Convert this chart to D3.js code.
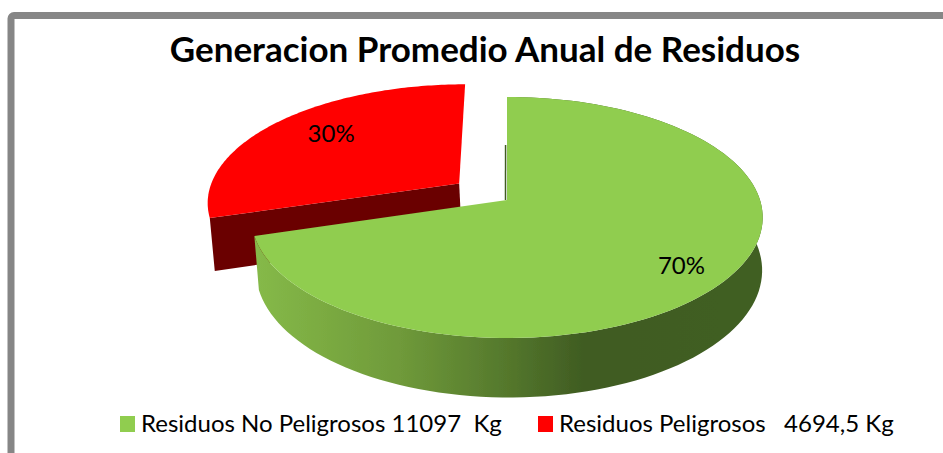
<!DOCTYPE html>
<html>
<head>
<meta charset="utf-8">
<script src="https://cdn.jsdelivr.net/npm/d3@7"></script>
<style>
    html, body { margin: 0; padding: 0; background: #fff; overflow: hidden; }
    text { font-family: Lato, "Open Sans", sans-serif; white-space: pre; }
</style>
</head>
<body>
<div id="chart"></div>
<script>
const chartTitle = "Generacion Promedio Anual de Residuos";
const categories = ["Residuos No Peligrosos", "Residuos Peligrosos"];
const values = [11097, 4694.5];
const legendLabels = ["Residuos No Peligrosos 11097  Kg", "Residuos Peligrosos   4694,5 Kg"];

const width = 943, height = 453;

const svg = d3.select("#chart")
    .append("svg")
    .attr("width", width)
    .attr("height", height);

// Frame, right and bottom edges run off the picture
svg.append("rect")
    .attr("x", 11).attr("y", 15.5)
    .attr("width", 960).attr("height", 480)
    .attr("rx", 3)
    .attr("fill", "#fff")
    .attr("stroke", "#868686")
    .attr("stroke-width", 7);

svg.append("text")
    .attr("x", 485).attr("y", 62)
    .attr("text-anchor", "middle")
    .attr("font-size", 35)
    .attr("font-weight", 700)
    .attr("fill", "#000")
    .text(chartTitle);

const color = d3.scaleOrdinal().domain(categories).range(["#90cd4f", "#ff0000"]);
const sideColor = d3.scaleOrdinal().domain(categories).range(["url(#greenSide)", "#6a0000"]);

const defs = svg.append("defs");
const grad = defs.append("linearGradient")
    .attr("id", "greenSide")
    .attr("gradientUnits", "userSpaceOnUse")
    .attr("x1", 258).attr("x2", 763).attr("y1", 0).attr("y2", 0);
[["0%", "#85b948"], ["28%", "#6f9a3a"], ["48%", "#567a2d"], ["65%", "#3f5b22"], ["100%", "#415f24"]]
    .forEach(([o, c]) => grad.append("stop").attr("offset", o).attr("stop-color", c));
defs.append("filter").attr("id", "soft")
    .attr("x", "-5%").attr("y", "-5%").attr("width", "110%").attr("height", "110%")
    .append("feGaussianBlur").attr("stdDeviation", 0.6);

// Perspective view of the pie: u right, v towards the viewer, h downwards
const cx = 507, cy = 200, R = 253, k = 118, p = 0.145, depth = 52;
function project(u, v, h) {
    const w = 1 - p * v, s = 1 - 0.01 * h;
    return [cx + 2 * h + s * R * u / w, cy + (s * k * v + depth * h) / w];
}

const pie = d3.pie().sort(null).value(d => d);
const slices = pie(values);
const explode = [0, 0.24];
const labelRadius = [0.82, 0.7];
const labelShift = [[-5, 4], [1, -5]];
const line = d3.line();

slices.forEach((d, i) => { d.i = i; });

function rim(d, h) {
    const mid = (d.startAngle + d.endAngle) / 2;
    const ox = explode[d.i] * Math.sin(mid), oy = -explode[d.i] * Math.cos(mid);
    const steps = d3.range(0, 121).map(n => d.startAngle + (d.endAngle - d.startAngle) * n / 120);
    return steps.map(a => project(ox + Math.sin(a), oy - Math.cos(a), h));
}
function apex(d, h) {
    const mid = (d.startAngle + d.endAngle) / 2;
    return project(explode[d.i] * Math.sin(mid), -explode[d.i] * Math.cos(mid), h);
}

// Back slice first, the big one overlaps it
const g = svg.append("g").attr("filter", "url(#soft)");
[slices[1], slices[0]].forEach(d => {
    const top = rim(d, 0), bottom = rim(d, 1);
    const fill = sideColor(categories[d.i]);

    if (d.i === 0) {
        // Outer wall of the green slice
        g.append("path")
            .attr("d", line(top.concat(bottom.slice().reverse())) + "Z")
            .attr("fill", fill);
    } else {
        // Red slice only shows its front cut face
        g.append("path")
            .attr("d", line([apex(d, 0), top[0], bottom[0], apex(d, 1)]) + "Z")
            .attr("fill", fill);
    }
    g.append("path")
        .attr("d", line([apex(d, 0)].concat(top)) + "Z")
        .attr("fill", color(categories[d.i]));
});

// Thin dark edge of the cut on the green slice
g.append("path")
    .attr("d", line([project(-0.006, -0.5, 0), project(-0.006, 0, 0)]))
    .attr("stroke", "#3f5b22")
    .attr("stroke-width", 1.5)
    .attr("fill", "none");

// Percent labels
const total = d3.sum(values);
slices.forEach(d => {
    const mid = (d.startAngle + d.endAngle) / 2;
    const r = labelRadius[d.i], e = explode[d.i];
    const [x, y] = project((e + r) * Math.sin(mid), -(e + r) * Math.cos(mid), 0);
    svg.append("text")
        .attr("x", x + labelShift[d.i][0]).attr("y", y + labelShift[d.i][1])
        .attr("dy", "0.35em")
        .attr("text-anchor", "middle")
        .attr("font-size", 24)
        .attr("fill", "#000")
        .text(d3.format(".0%")(d.value / total));
});

// Legend
const legendX = [120, 538];
categories.forEach((c, i) => {
    svg.append("rect")
        .attr("x", legendX[i]).attr("y", 416)
        .attr("width", 15).attr("height", 16)
        .attr("fill", color(c));
    svg.append("text")
        .attr("x", legendX[i] + 21).attr("y", 432)
        .attr("font-size", 24)
        .attr("fill", "#000")
        .text(legendLabels[i]);
});
</script>
</body>
</html>
